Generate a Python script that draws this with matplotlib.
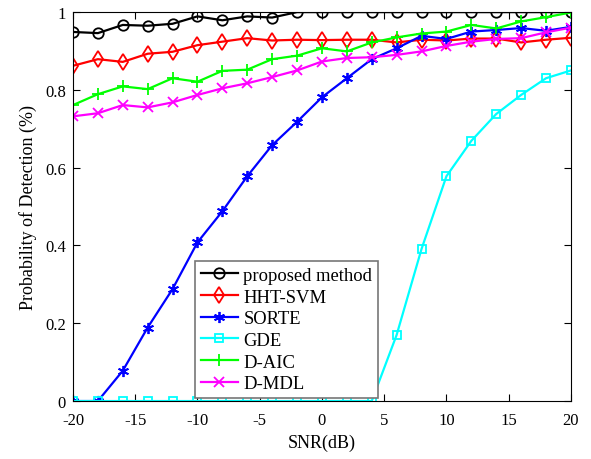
import matplotlib
matplotlib.use("Agg")
import matplotlib.pyplot as plt
import numpy as np

plt.rcParams["font.family"] = ["Liberation Serif", "DejaVu Serif"]
plt.rcParams["axes.unicode_minus"] = False

snr = np.arange(-20, 21, 2)

proposed = [0.949, 0.946, 0.967, 0.965, 0.970, 0.989, 0.979, 0.989, 0.986, 1.0, 1.0,
            1.0, 1.0, 1.0, 1.0, 1.0, 1.0, 1.0, 1.0, 1.0, 1.0]
hht_svm = [0.862, 0.879, 0.872, 0.893, 0.898, 0.915, 0.924, 0.933, 0.927, 0.929, 0.928,
           0.929, 0.929, 0.922, 0.929, 0.927, 0.932, 0.932, 0.922, 0.929, 0.934]
sorte = [0.0, 0.0, 0.078, 0.189, 0.288, 0.408, 0.488, 0.578, 0.658, 0.718, 0.781,
         0.830, 0.879, 0.907, 0.939, 0.931, 0.950, 0.954, 0.959, 0.952, 0.962]
gde = [0.0, 0.0, 0.0, 0.0, 0.0, 0.0, 0.0, 0.0, 0.0, 0.0, 0.0,
       0.0, 0.0, 0.170, 0.391, 0.578, 0.669, 0.738, 0.787, 0.830, 0.850]
d_aic = [0.761, 0.789, 0.809, 0.802, 0.830, 0.821, 0.849, 0.852, 0.879, 0.888, 0.907,
         0.899, 0.922, 0.935, 0.945, 0.950, 0.967, 0.958, 0.976, 0.987, 0.999]
d_mdl = [0.732, 0.740, 0.761, 0.755, 0.768, 0.787, 0.804, 0.817, 0.833, 0.850, 0.873,
         0.882, 0.884, 0.890, 0.899, 0.913, 0.924, 0.931, 0.933, 0.948, 0.960]

fig = plt.figure(figsize=(5.91, 4.6), dpi=100)
ax = fig.add_axes([0.1235, 0.126, 0.8425, 0.8455])

asterisk = (6, 2, 0)
ax.plot(snr, proposed, color="black", lw=1.6, marker="o", ms=7.5, mfc="none", mew=1.3, label="proposed method")
ax.plot(snr, hht_svm, color="red", lw=1.6, marker="d", ms=8.5, mfc="none", mew=1.3, label="HHT-SVM")
ax.plot(snr, sorte, color="blue", lw=1.6, marker=asterisk, ms=8, mew=1.3, label="SORTE")
ax.plot(snr, gde, color="cyan", lw=1.6, marker="s", ms=6, mfc="none", mew=1.3, label="GDE")
ax.plot(snr, d_aic, color="#00ff00", lw=1.6, marker="+", ms=9, mew=1.3, label="D-AIC")
ax.plot(snr, d_mdl, color="magenta", lw=1.6, marker="x", ms=7, mew=1.3, label="D-MDL")

ax.set_xlim(-20, 20)
ax.set_ylim(0, 1)
ax.set_xticks(np.arange(-20, 21, 5))
ax.set_yticks([0, 0.2, 0.4, 0.6, 0.8, 1])
ax.set_yticklabels(["0", "0.2", "0.4", "0.6", "0.8", "1"])
ax.tick_params(direction="in", top=True, right=True, labelsize=12, length=5, width=0.8)
ax.tick_params(axis="x", pad=8)
ax.tick_params(axis="y", pad=5)
for s in ax.spines.values():
    s.set_linewidth(0.8)
ax.set_xlabel("SNR(dB)", fontsize=13, labelpad=4)
ax.set_ylabel("Probability of Detection (%)", fontsize=13, labelpad=6)

leg = ax.legend(loc="lower left", bbox_to_anchor=(0.245, 0.008), fontsize=13.4,
                fancybox=False, framealpha=1, edgecolor="#777777", handlelength=2.0,
                borderpad=0.3, labelspacing=0.25, handletextpad=0.3, borderaxespad=0)
leg.get_frame().set_linewidth(1.2)

fig.savefig("out.png", dpi=100)
